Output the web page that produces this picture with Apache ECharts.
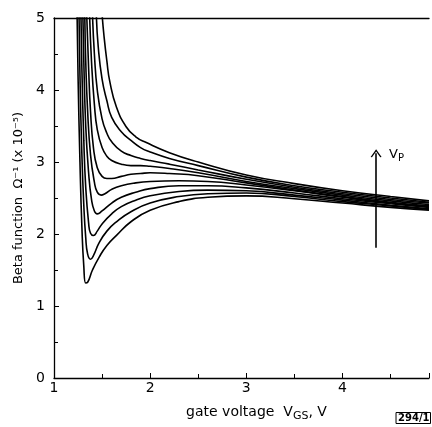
<!DOCTYPE html>
<html>
<head>
<meta charset="utf-8">
<script src="https://cdn.jsdelivr.net/npm/echarts@6/dist/echarts.min.js"></script>
<style>
  html, body { margin: 0; padding: 0; background: #fff; }
  #chart { width: 432px; height: 427px; }
</style>
</head>
<body>
<div id="chart"></div>
<script>
var chartDom = document.getElementById('chart');
var myChart = echarts.init(chartDom);

// beta function curves, one per pinch-off voltage, lowest Vp first
var c0 = [[1.24,5.05],[1.25,4.2],[1.27,3.0],[1.29,2.1],[1.31,1.55],[1.33,1.32],[1.35,1.33],[1.4,1.5],[1.47,1.68],[1.55,1.84],[1.65,1.98],[1.8,2.17],[2.0,2.33],[2.3,2.45],[2.6,2.51],[3.0,2.53],[3.5,2.49],[4.0,2.43],[4.5,2.37],[4.9,2.33]];
var c1 = [[1.26,5.05],[1.27,4.2],[1.29,3.1],[1.31,2.4],[1.33,1.95],[1.35,1.72],[1.38,1.65],[1.41,1.7],[1.47,1.88],[1.55,2.04],[1.65,2.17],[1.8,2.31],[2.0,2.43],[2.3,2.52],[2.6,2.56],[3.0,2.57],[3.5,2.52],[4.0,2.45],[4.5,2.39],[4.9,2.34]];
var c2 = [[1.28,5.05],[1.29,4.3],[1.31,3.3],[1.33,2.65],[1.36,2.15],[1.38,2.01],[1.41,1.98],[1.45,2.04],[1.5,2.14],[1.6,2.28],[1.7,2.38],[1.85,2.47],[2.0,2.53],[2.3,2.59],[2.6,2.61],[3.0,2.6],[3.5,2.54],[4.0,2.47],[4.5,2.4],[4.9,2.35]];
var c3 = [[1.3,5.05],[1.31,4.4],[1.33,3.5],[1.36,2.85],[1.39,2.48],[1.42,2.32],[1.45,2.28],[1.5,2.32],[1.6,2.43],[1.7,2.51],[1.85,2.58],[2.0,2.63],[2.3,2.67],[2.6,2.67],[3.0,2.64],[3.5,2.57],[4.0,2.49],[4.5,2.42],[4.9,2.37]];
var c4 = [[1.32,5.05],[1.33,4.4],[1.35,3.7],[1.38,3.1],[1.42,2.72],[1.45,2.58],[1.49,2.54],[1.53,2.56],[1.6,2.62],[1.7,2.67],[1.85,2.71],[2.0,2.73],[2.3,2.74],[2.6,2.73],[3.0,2.68],[3.5,2.6],[4.0,2.51],[4.5,2.43],[4.9,2.38]];
var c5 = [[1.34,5.05],[1.36,4.3],[1.38,3.7],[1.41,3.2],[1.45,2.92],[1.5,2.8],[1.55,2.77],[1.6,2.77],[1.7,2.8],[1.8,2.83],[1.9,2.84],[2.0,2.85],[2.2,2.84],[2.5,2.81],[3.0,2.71],[3.5,2.61],[4.0,2.52],[4.5,2.44],[4.9,2.39]];
var c6 = [[1.37,5.05],[1.39,4.4],[1.42,3.8],[1.45,3.45],[1.5,3.2],[1.55,3.08],[1.6,3.02],[1.7,2.97],[1.8,2.95],[1.9,2.95],[2.0,2.94],[2.2,2.91],[2.5,2.85],[3.0,2.73],[3.5,2.63],[4.0,2.54],[4.5,2.46],[4.9,2.41]];
var c7 = [[1.4,5.05],[1.42,4.5],[1.45,4.0],[1.5,3.6],[1.55,3.4],[1.6,3.28],[1.7,3.15],[1.8,3.09],[1.9,3.05],[2.0,3.02],[2.2,2.97],[2.5,2.89],[3.0,2.76],[3.5,2.65],[4.0,2.56],[4.5,2.48],[4.9,2.43]];
var c8 = [[1.44,5.05],[1.46,4.6],[1.5,4.15],[1.55,3.85],[1.6,3.62],[1.7,3.42],[1.8,3.3],[1.9,3.2],[2.0,3.14],[2.2,3.05],[2.5,2.95],[3.0,2.79],[3.5,2.67],[4.0,2.58],[4.5,2.5],[4.9,2.44]];
var c9 = [[1.5,5.05],[1.52,4.75],[1.55,4.4],[1.58,4.12],[1.65,3.76],[1.75,3.49],[1.85,3.35],[1.96,3.27],[2.2,3.13],[2.5,3.0],[3.0,2.82],[3.5,2.7],[4.0,2.6],[4.5,2.52],[4.9,2.46]];
var curves = [c0, c1, c2, c3, c4, c5, c6, c7, c8, c9];

// Vp arrow (data units)
var arrowX = 4.35;
var arrowFrom = 1.81;
var arrowTo = 3.12;

var xMin = 1, xMax = 4.9;
var yMin = 0, yMax = 5;

var font = 'DejaVu Sans';

var series = [];
for (let i = 0; i < curves.length; i++) {
  series.push({
    type: 'line',
    data: curves[i],
    smooth: 0.5,
    showSymbol: false,
    clip: true,
    silent: true,
    lineStyle: { color: '#000', width: 1.6 }
  });
}
// the arrow
series.push({
  type: 'line',
  data: [],
  markLine: {
    silent: true,
    symbol: ['none', 'path://M0,12 L6,0 L12,12 L10.5,12.5 L6,3.5 L1.5,12.5 Z'],
    symbolSize: [11, 8],
    lineStyle: { color: '#000', width: 1.6, type: 'solid' },
    label: { show: false },
    data: [[{ coord: [arrowX, arrowFrom] }, { coord: [arrowX, arrowTo] }]]
  }
});

var option = {
  animation: false,
  grid: { left: 54, right: 0, top: 18, bottom: 38 },
  xAxis: [{
    type: 'value',
    min: xMin,
    max: xMax,
    interval: 1,
    name: '{a|gate voltage  V}{s|GS}{a|, V}',
    nameLocation: 'middle',
    nameGap: 24,
    nameTextStyle: {
      padding: [0, 0, 0, 30],
      rich: {
        a: { fontFamily: font, fontSize: 14, color: '#000' },
        s: { fontFamily: font, fontSize: 11, color: '#000', padding: [9, 0, 0, 0] }
      }
    },
    axisLine: { lineStyle: { color: '#000', width: 1.3 } },
    axisTick: { inside: true, length: 5, lineStyle: { color: '#000' } },
    minorTick: { show: true, splitNumber: 2, length: 4, lineStyle: { color: '#000' } },
    splitLine: { show: false },
    axisLabel: {
      color: '#000', fontFamily: font, fontSize: 14, margin: 3,
      formatter: function (v) { return Number.isInteger(v) ? String(v) : ''; }
    }
  }, {
    type: 'value',
    position: 'top',
    min: xMin,
    max: xMax,
    axisLine: { show: true, lineStyle: { color: '#000', width: 1.3 } },
    axisTick: { show: false },
    axisLabel: { show: false },
    splitLine: { show: false }
  }],
  yAxis: {
    type: 'value',
    min: yMin,
    max: yMax,
    interval: 1,
    name: 'Beta function  Ω⁻¹ (x 10⁻⁵)',
    nameLocation: 'middle',
    nameRotate: 90,
    nameGap: 24,
    nameTextStyle: { fontFamily: font, fontSize: 13, color: '#000' },
    axisLine: { show: true, lineStyle: { color: '#000', width: 1.3 } },
    axisTick: { inside: true, length: 5, lineStyle: { color: '#000' } },
    minorTick: { show: true, splitNumber: 2, length: 4, lineStyle: { color: '#000' } },
    splitLine: { show: false },
    axisLabel: { color: '#000', fontFamily: font, fontSize: 14, margin: 9 }
  },
  graphic: [
    {
      type: 'text',
      left: 389,
      top: 148,
      style: {
        text: '{a|V}{s|P}',
        rich: {
          a: { fontFamily: font, fontSize: 13, fill: '#000' },
          s: { fontFamily: font, fontSize: 10, fill: '#000', padding: [8, 0, 0, 0] }
        }
      }
    },
    {
      type: 'text',
      right: 1,
      bottom: 3,
      style: {
        text: '294/1',
        fontFamily: font,
        fontSize: 10,
        fontWeight: 'bold',
        fill: '#000',
        borderColor: '#000',
        borderWidth: 1,
        padding: [1, 1, 0, 2]
      }
    }
  ],
  series: series
};

option && myChart.setOption(option);
</script>
</body>
</html>
